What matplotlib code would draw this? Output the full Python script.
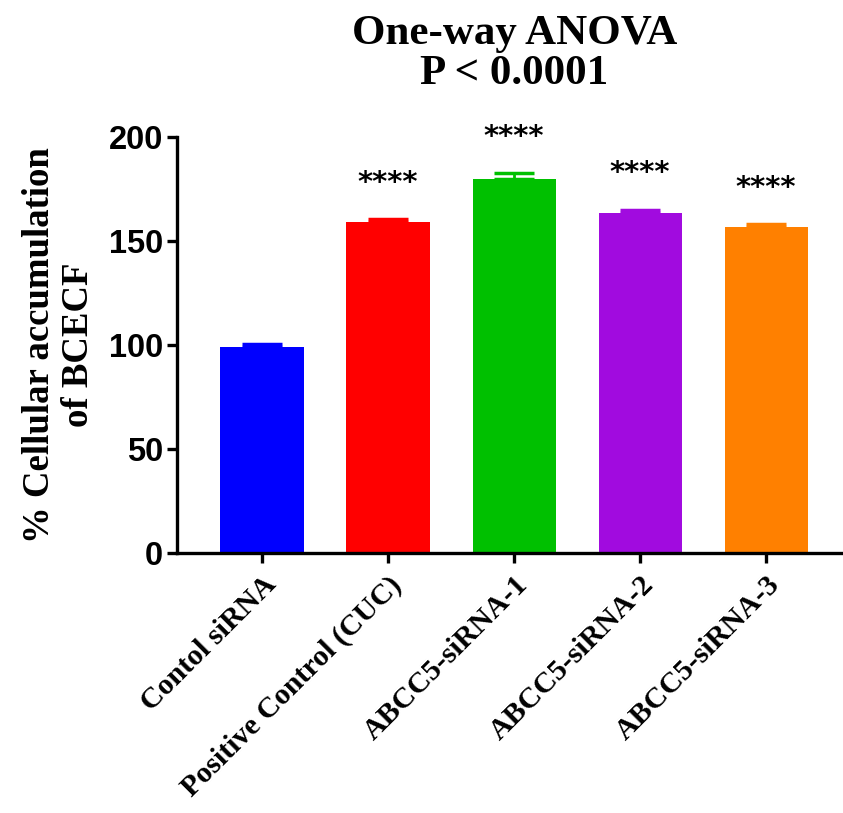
import matplotlib
matplotlib.use("Agg")
import matplotlib.pyplot as plt

categories = ["Contol siRNA", "Positive Control (CUC)", "ABCC5-siRNA-1",
              "ABCC5-siRNA-2", "ABCC5-siRNA-3"]
means = [99.0, 159.0, 180.0, 163.5, 156.8]
sems = [1.3, 1.5, 2.6, 1.5, 1.4]
signif = ["", "****", "****", "****", "****"]
colors = ["#0000FF", "#FF0000", "#00C000", "#A10BDF", "#FF8000"]
yticks = [0, 50, 100, 150, 200]

fig = plt.figure(figsize=(8.43, 8.13), dpi=100)
ax = fig.add_axes([177/843, 1-553/813, 1-177/843, (553-137)/813])

x = list(range(len(categories)))
ax.bar(x, means, width=0.66, color=colors, zorder=2)
for xi, m, s, c in zip(x, means, sems, colors):
    ax.errorbar(xi, m, yerr=[[0], [s]], fmt='none', ecolor=c, elinewidth=2.0,
                capsize=14.5, capthick=2.5, zorder=1)
for xi, m, s, t in zip(x, means, sems, signif):
    if t:
        ax.text(xi, m + s + 17.5, t, ha='center', va='center', fontsize=21,
                fontweight='bold', family='DejaVu Sans', clip_on=False)

ax.set_xlim(-0.675, 4.61)
ax.set_ylim(0, 200)
ax.set_yticks(yticks)
ax.set_yticklabels([str(v) for v in yticks], fontsize=23.5, fontweight='bold',
                   family='Liberation Sans')
ax.set_xticks(x)
ax.set_xticklabels(categories, rotation=45, ha='right', rotation_mode='anchor',
                   fontsize=21.5, fontweight='bold', family='Liberation Serif')
for sp in ['top', 'right']:
    ax.spines[sp].set_visible(False)
for sp in ['left', 'bottom']:
    ax.spines[sp].set_linewidth(2.4)
ax.tick_params(axis='both', length=7, width=2.4, pad=3)
ax.tick_params(axis='x', pad=6)

ax.set_ylabel("% Cellular accumulation\nof BCECF", fontsize=26.5, fontweight='bold',
              family='Liberation Serif', labelpad=9, linespacing=1.15)

fig.text(0.61, 1-54/813, "One-way ANOVA\nP < 0.0001", ha='center', va='center',
         fontsize=31, fontweight='bold', family='Liberation Serif', linespacing=1.1)

fig.savefig("out.png", dpi=100)
